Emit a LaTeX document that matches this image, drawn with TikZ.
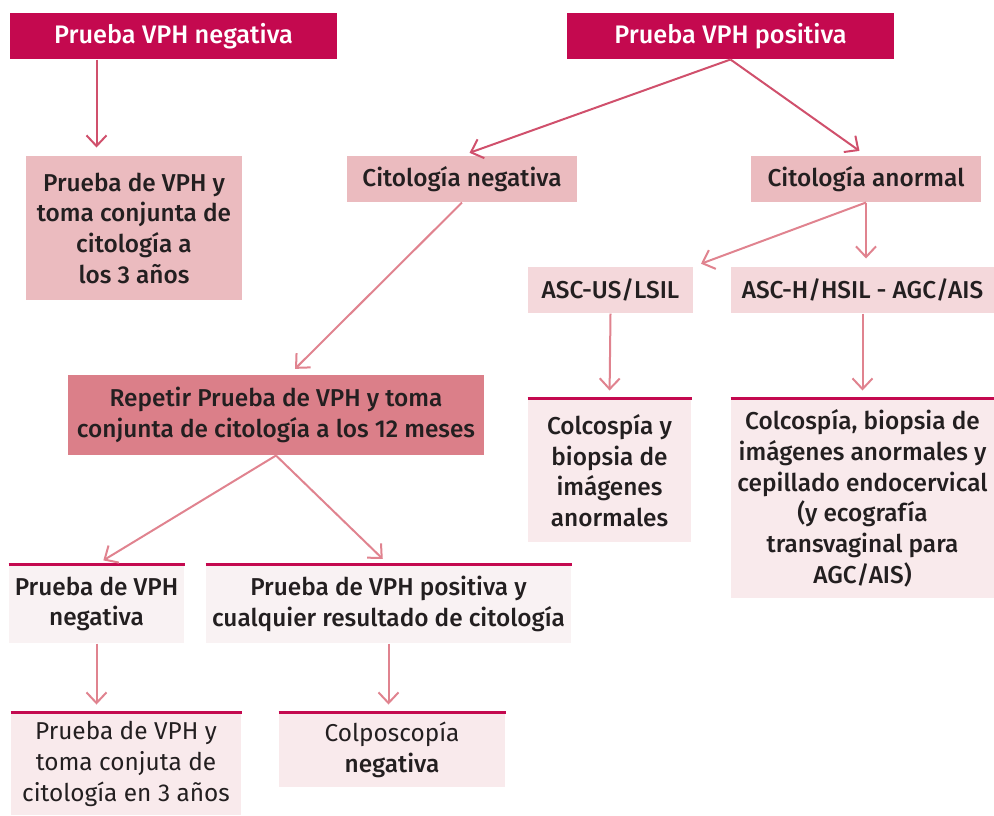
\documentclass[tikz,border=0pt]{standalone}
\usepackage{fontspec}
\setmainfont{Fira Sans}[BoldFont={Fira Sans Medium}]
\usetikzlibrary{arrows.meta,calc}

\definecolor{crimson}{RGB}{196,9,79}
\definecolor{rosa}{RGB}{235,187,191}
\definecolor{rosaclaro}{RGB}{244,216,219}
\definecolor{rosaoscuro}{RGB}{219,127,137}
\definecolor{palido}{RGB}{249,234,236}
\definecolor{palidob}{RGB}{249,242,243}
\definecolor{flecha}{RGB}{208,80,108}
\definecolor{flechab}{RGB}{224,131,143}
\definecolor{texto}{RGB}{35,31,32}

\tikzset{every picture/.style={line width=0.75pt}}
\tikzset{
  caja/.style={inner sep=0pt, align=center, text=texto, font=\bfseries\fontsize{18.3}{23}\selectfont},
  cabeza/.style={caja, fill=crimson, text=white, font=\bfseries\fontsize{19}{23}\selectfont, minimum width=245.25pt, minimum height=34.5pt},
  arr/.style={draw=flecha, line width=1.5pt, -{Straight Barb[length=8pt,width=15pt]}, shorten >=6pt},
  arrb/.style={arr, draw=flechab},
  borde/.style={draw=crimson, line width=1.6pt}
}

\begin{document}
\begin{tikzpicture}[x=0.75pt,y=0.75pt,yscale=-1,xscale=1]
\useasboundingbox (0,0) rectangle (994,815);

% Text Node
\node [cabeza] (neg) at (173.5,36) {Prueba VPH negativa};
% Text Node
\node [cabeza] (pos) at (730.5,36) {Prueba VPH positiva};
% Text Node
\node [caja, fill=rosa, minimum width=162pt, minimum height=108pt] (tres) at (134,228) {Prueba de VPH y\\toma conjunta de\\citología a\\los 3 años};
% Text Node
\node [caja, fill=rosa, minimum width=172.5pt, minimum height=34.5pt] (citneg) at (462,179) {Citología negativa};
% Text Node
\node [caja, fill=rosa, minimum width=172.5pt, minimum height=34.5pt] (citanor) at (866,179) {Citología anormal};
% Text Node
\node [caja, fill=rosaclaro, minimum width=123.75pt, minimum height=34.5pt] (ascus) at (610.5,290) {ASC-US/LSIL};
% Text Node
\node [caja, fill=rosaclaro, minimum width=197.25pt, minimum height=34.5pt] (asch) at (862.5,290) {ASC-H/HSIL - AGC/AIS};
% Text Node
\node [caja, fill=rosaoscuro, minimum width=312pt, minimum height=60pt] (repetir) at (276,415) {Repetir Prueba de VPH y toma\\conjunta de citología a los 12 meses};
% Text Node
\node [caja, fill=palido, minimum width=122.25pt, minimum height=107.25pt] (colc1) at (609.5,470.5) {Colcospía y\\biopsia de\\imágenes\\anormales};
% Text Node
\node [caja, fill=palido, minimum width=197.25pt, minimum height=149.25pt] (colc2) at (862.5,498.5) {Colcospía, biopsia de\\imágenes anormales y\\cepillado endocervical\\(y ecografía\\transvaginal para\\AGC/AIS)};
% Text Node
\node [caja, fill=palidob, minimum width=131.25pt, minimum height=58.5pt] (vphneg) at (96.5,604) {Prueba de VPH\\negativa};
% Text Node
\node [caja, fill=palidob, minimum width=273.75pt, minimum height=58.5pt] (vphpos) at (388.5,604) {Prueba de VPH positiva y\\cualquier resultado de citología};
% Text Node
\node [caja, fill=palido, minimum width=172.5pt, minimum height=76.5pt, font=\fontsize{18.3}{23}\selectfont] (tresb) at (126,764) {Prueba de VPH y\\toma conjuta de\\citología en 3 años};
% Text Node
\node [caja, fill=palido, minimum width=169.5pt, minimum height=55.5pt, font=\fontsize{18.3}{23}\selectfont] (colpo) at (392,750) {Colposcopía\\\textbf{negativa}};

% top borders
\foreach \n in {colc1,colc2,vphneg,vphpos,tresb,colpo}
  \draw [borde] (\n.north west) -- (\n.north east);

%Straight Lines
\draw [arr] (neg.south -| vphneg) -- (tres.north -| vphneg);
\draw [arr] (pos.south) -- (citneg.north);
\draw [arr] (pos.south) -- (citanor.north);
\draw [arrb] (citneg.south) -- ([xshift=10pt]repetir.north);
\draw [arrb] (citanor.south) -- (ascus.north east);
\draw [arrb] (citanor.south) -- (citanor.south |- asch.north);
\draw [arrb] (ascus.south) -- (colc1.north);
\draw [arrb] (asch.south) -- (colc2.north);
\draw [arrb] (repetir.south) -- (vphneg.north);
\draw [arrb] (repetir.south) -- (vphpos.north);
\draw [arrb] (vphneg.south) -- (vphneg.south |- tresb.north);
\draw [arrb] (vphpos.south) -- (vphpos.south |- colpo.north);

\end{tikzpicture}
\end{document}
